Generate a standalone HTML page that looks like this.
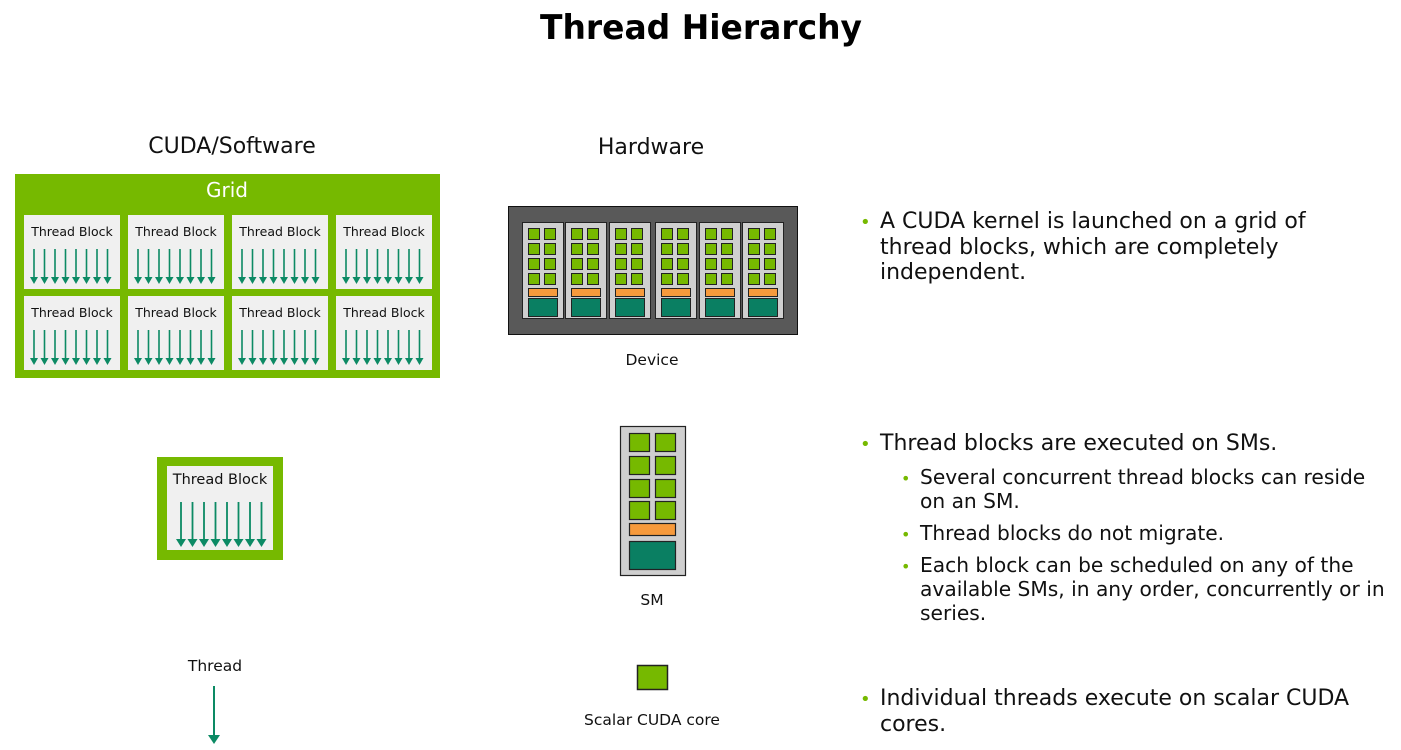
<!DOCTYPE html>
<html><head><meta charset="utf-8"><style>
html,body{margin:0;padding:0;background:#fff;}
svg{display:block;font-family:"DejaVu Sans","Liberation Sans",sans-serif;}
</style></head><body>
<svg width="1401" height="750" viewBox="0 0 1401 750" xmlns="http://www.w3.org/2000/svg">
<defs>
<g id="arr" stroke="#0c8a64" stroke-width="1.6" fill="#0c8a64">
<line x1="10" y1="34" x2="10" y2="63"/><polygon points="6,62 14,62 10,69" stroke="none"/>
<line x1="20.5" y1="34" x2="20.5" y2="63"/><polygon points="16.5,62 24.5,62 20.5,69" stroke="none"/>
<line x1="31" y1="34" x2="31" y2="63"/><polygon points="27,62 35,62 31,69" stroke="none"/>
<line x1="41.5" y1="34" x2="41.5" y2="63"/><polygon points="37.5,62 45.5,62 41.5,69" stroke="none"/>
<line x1="52" y1="34" x2="52" y2="63"/><polygon points="48,62 56,62 52,69" stroke="none"/>
<line x1="62.5" y1="34" x2="62.5" y2="63"/><polygon points="58.5,62 66.5,62 62.5,69" stroke="none"/>
<line x1="73" y1="34" x2="73" y2="63"/><polygon points="69,62 77,62 73,69" stroke="none"/>
<line x1="83.5" y1="34" x2="83.5" y2="63"/><polygon points="79.5,62 87.5,62 83.5,69" stroke="none"/>
</g>
<g id="arr2" stroke="#0c8a64" stroke-width="1.8" fill="#0c8a64">
<line x1="0" y1="0" x2="0" y2="38"/><polygon points="-5,37 5,37 0,45" stroke="none"/>
</g>
<g id="blk"><rect x="0" y="0" width="96" height="74" fill="#f0f0f0"/><use href="#arr"/></g>
<g id="sm" stroke="#222" stroke-width="1">
<rect x="0" y="0" width="41" height="96" fill="#cfcfcf"/>
<g fill="#76b900">
<rect x="6" y="6" width="11" height="11"/><rect x="22" y="6" width="11" height="11"/>
<rect x="6" y="21" width="11" height="11"/><rect x="22" y="21" width="11" height="11"/>
<rect x="6" y="36" width="11" height="11"/><rect x="22" y="36" width="11" height="11"/>
<rect x="6" y="51" width="11" height="11"/><rect x="22" y="51" width="11" height="11"/>
</g>
<rect x="6" y="66" width="29" height="8" fill="#f79a3c"/>
<rect x="6" y="76" width="29" height="18" fill="#0a7f62"/>
</g>
</defs>

<text x="701" y="39" text-anchor="middle" font-size="34" font-weight="bold" fill="#000" textLength="322" lengthAdjust="spacingAndGlyphs">Thread Hierarchy</text>
<text x="232" y="153" text-anchor="middle" font-size="22" fill="#111">CUDA/Software</text>
<text x="651" y="154" text-anchor="middle" font-size="22" fill="#111">Hardware</text>

<!-- Grid -->
<rect x="15" y="174" width="425" height="204" fill="#76b900"/>
<text x="227" y="197" text-anchor="middle" font-size="20" fill="#fff">Grid</text>
<g font-size="12.5" fill="#111" text-anchor="middle">
<use href="#blk" x="24" y="215"/><use href="#blk" x="128" y="215"/><use href="#blk" x="232" y="215"/><use href="#blk" x="336" y="215"/>
<use href="#blk" x="24" y="296"/><use href="#blk" x="128" y="296"/><use href="#blk" x="232" y="296"/><use href="#blk" x="336" y="296"/>
<text x="72" y="236">Thread Block</text><text x="176" y="236">Thread Block</text><text x="280" y="236">Thread Block</text><text x="384" y="236">Thread Block</text>
<text x="72" y="317">Thread Block</text><text x="176" y="317">Thread Block</text><text x="280" y="317">Thread Block</text><text x="384" y="317">Thread Block</text>
</g>

<!-- Single thread block -->
<rect x="157" y="457" width="126" height="103" fill="#76b900"/>
<rect x="167" y="466" width="106" height="84" fill="#f0f0f0"/>
<use href="#arr2" x="181" y="502"/><use href="#arr2" x="192.5" y="502"/><use href="#arr2" x="204" y="502"/><use href="#arr2" x="215.5" y="502"/>
<use href="#arr2" x="227" y="502"/><use href="#arr2" x="238.5" y="502"/><use href="#arr2" x="250" y="502"/><use href="#arr2" x="261.5" y="502"/>
<text x="220" y="484" text-anchor="middle" font-size="14.5" fill="#111">Thread Block</text>

<!-- Thread -->
<text x="215" y="671" text-anchor="middle" font-size="15.5" fill="#111">Thread</text>
<line x1="214" y1="686" x2="214" y2="737" stroke="#0c8a64" stroke-width="2"/>
<polygon points="208,735 220,735 214,744" fill="#0c8a64"/>

<!-- Device -->
<rect x="508.5" y="206.5" width="289" height="128" fill="#595959" stroke="#111"/>
<use href="#sm" x="522.5" y="222.5"/><use href="#sm" x="565.5" y="222.5"/><use href="#sm" x="609.5" y="222.5"/>
<use href="#sm" x="655.5" y="222.5"/><use href="#sm" x="699.5" y="222.5"/><use href="#sm" x="742.5" y="222.5"/>
<text x="652" y="365" text-anchor="middle" font-size="15.5" fill="#111">Device</text>

<!-- SM -->
<g stroke="#222" stroke-width="1.2">
<rect x="620.5" y="426.5" width="65" height="149" fill="#cfcfcf"/>
<g fill="#76b900">
<rect x="629.5" y="433.5" width="20" height="18"/><rect x="655.5" y="433.5" width="20" height="18"/>
<rect x="629.5" y="456.5" width="20" height="18"/><rect x="655.5" y="456.5" width="20" height="18"/>
<rect x="629.5" y="479.5" width="20" height="18"/><rect x="655.5" y="479.5" width="20" height="18"/>
<rect x="629.5" y="501.5" width="20" height="18"/><rect x="655.5" y="501.5" width="20" height="18"/>
</g>
<rect x="629.5" y="523.5" width="46" height="12" fill="#f79a3c"/>
<rect x="629.5" y="541.5" width="46" height="28" fill="#0a7f62"/>
</g>
<text x="652" y="605" text-anchor="middle" font-size="15.5" fill="#111">SM</text>

<!-- Scalar core -->
<rect x="637.5" y="665.5" width="30" height="24" fill="#76b900" stroke="#222" stroke-width="1.5"/>
<text x="652" y="725" text-anchor="middle" font-size="15.5" fill="#111">Scalar CUDA core</text>

<!-- Bullets -->
<g font-size="22" fill="#111">
<text x="860" y="228" fill="#76b900" font-size="18">•</text>
<text x="880" y="228">A CUDA kernel is launched on a grid of</text>
<text x="880" y="254">thread blocks, which are completely</text>
<text x="880" y="279">independent.</text>

<text x="860" y="450" fill="#76b900" font-size="18">•</text>
<text x="880" y="450">Thread blocks are executed on SMs.</text>
<g font-size="20.2">
<text x="901" y="484" fill="#76b900" font-size="16">•</text>
<text x="920" y="484">Several concurrent thread blocks can reside</text>
<text x="920" y="508">on an SM.</text>
<text x="901" y="540" fill="#76b900" font-size="16">•</text>
<text x="920" y="540">Thread blocks do not migrate.</text>
<text x="901" y="572" fill="#76b900" font-size="16">•</text>
<text x="920" y="572">Each block can be scheduled on any of the</text>
<text x="920" y="596">available SMs, in any order, concurrently or in</text>
<text x="920" y="620">series.</text>
</g>

<text x="860" y="705" fill="#76b900" font-size="18">•</text>
<text x="880" y="705">Individual threads execute on scalar CUDA</text>
<text x="880" y="731">cores.</text>
</g>
</svg>
</body></html>
